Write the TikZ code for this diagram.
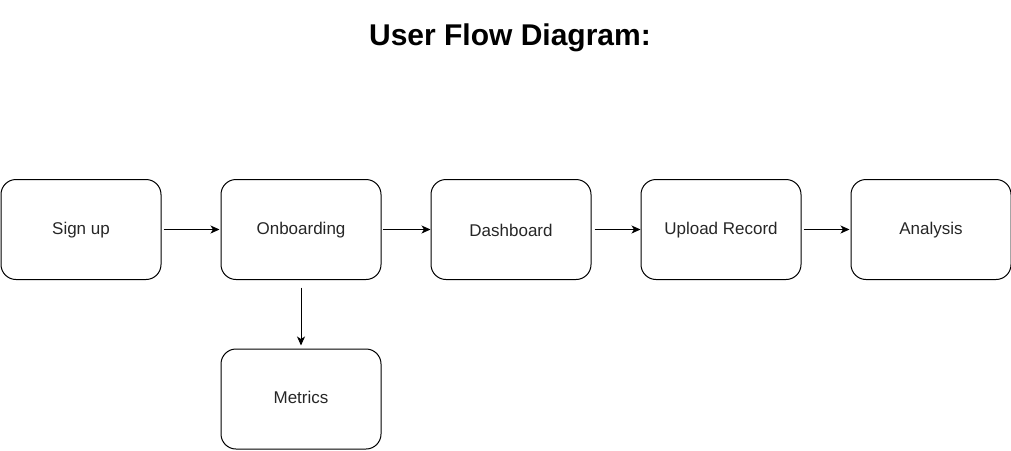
\documentclass[tikz,border=0pt]{standalone}
\usepackage{fontspec}
\setmainfont{Liberation Sans}
\usetikzlibrary{arrows.meta}
\begin{document}
\begin{tikzpicture}[x=1pt,y=-1pt,
  box/.style={draw=black, line width=1pt, rounded corners=15pt, minimum width=160pt, minimum height=100pt, inner sep=0pt,
    font=\fontsize{17pt}{20pt}\selectfont, text=black!85, text height=12.5pt, text depth=3.5pt},
  arr/.style={draw=black, line width=1pt, -{Stealth[length=9pt,width=8pt,inset=2.5pt]}},
  title/.style={font=\fontsize{30pt}{35pt}\selectfont\bfseries, anchor=base, inner sep=0pt}]
\useasboundingbox (0,0) rectangle (1011,450);
\node[title] (t) at (510,45) {User Flow Diagram:};
\node[box] (s) at (81,229.5) {Sign up};
\node[box] (o) at (301,229.5) {Onboarding};
\node[box, text height=18pt] (d) at (511,229.5) {Dashboard};
\node[box] (u) at (721,229.5) {Upload Record};
\node[box] (a) at (931,229.5) {Analysis};
\node[box] (m) at (301,399) {Metrics};
\draw[arr] ([xshift=2pt]s.east) -- ([xshift=-1pt]o.west);
\draw[arr] ([xshift=1pt]o.east) -- (d.west);
\draw[arr] ([xshift=3pt]d.east) -- (u.west);
\draw[arr] ([xshift=2pt]u.east) -- ([xshift=-1pt]a.west);
\draw[arr] ([yshift=-7.5pt]o.south) -- ([yshift=3pt]m.north);
\end{tikzpicture}
\end{document}
